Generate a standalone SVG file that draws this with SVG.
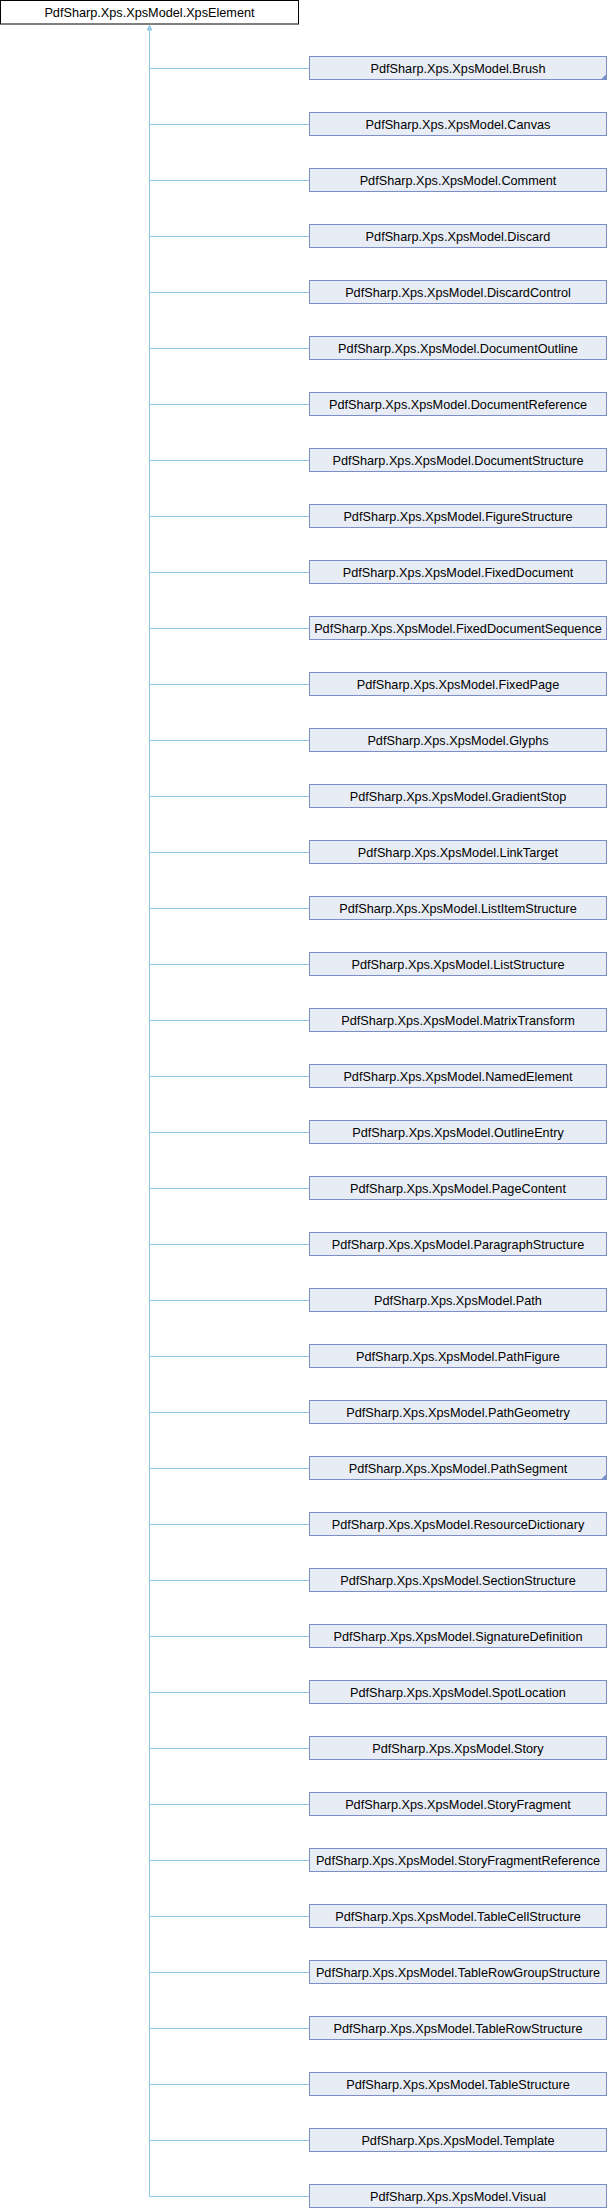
<svg xmlns="http://www.w3.org/2000/svg" width="608" height="2208" viewBox="0 0 608 2208">
<style>
.n rect{fill:#E8ECF5;stroke:#7B8FC6;stroke-width:1}
.r rect{fill:#FFFFFF;stroke:#000000;stroke-width:1}
text{font-family:"Liberation Sans",Arial,sans-serif;font-size:12.7px;fill:#000;text-anchor:middle}
.e{stroke:#8FC8E8;stroke-width:1;fill:none}
.c{fill:#7B8FC6}
</style>
<rect width="608" height="2208" fill="#fff"/>
<g id="connectors">
<path class="e" d="M149.5,30V2196.5"/>
<polygon points="149.5,24.5 146.5,30.5 152.5,30.5" fill="#8FC8E8"/>
<path class="e" d="M149.5,68.5H309M149.5,124.5H309M149.5,180.5H309M149.5,236.5H309M149.5,292.5H309M149.5,348.5H309M149.5,404.5H309M149.5,460.5H309M149.5,516.5H309M149.5,572.5H309M149.5,628.5H309M149.5,684.5H309M149.5,740.5H309M149.5,796.5H309M149.5,852.5H309M149.5,908.5H309M149.5,964.5H309M149.5,1020.5H309M149.5,1076.5H309M149.5,1132.5H309M149.5,1188.5H309M149.5,1244.5H309M149.5,1300.5H309M149.5,1356.5H309M149.5,1412.5H309M149.5,1468.5H309M149.5,1524.5H309M149.5,1580.5H309M149.5,1636.5H309M149.5,1692.5H309M149.5,1748.5H309M149.5,1804.5H309M149.5,1860.5H309M149.5,1916.5H309M149.5,1972.5H309M149.5,2028.5H309M149.5,2084.5H309M149.5,2140.5H309M149.5,2196.5H309"/>
</g>
<g id="XpsElement" class="r"><rect x="0.5" y="0.5" width="298" height="23.5"/><text x="149.5" y="17">PdfSharp.Xps.XpsModel.XpsElement</text></g>
<g id="Brush" class="n"><rect x="309.5" y="56.5" width="297" height="23"/><polygon class="c" points="601,79.5 606.5,74 606.5,79.5"/><text x="458" y="72.5">PdfSharp.Xps.XpsModel.Brush</text></g>
<g id="Canvas" class="n"><rect x="309.5" y="112.5" width="297" height="23"/><text x="458" y="128.5">PdfSharp.Xps.XpsModel.Canvas</text></g>
<g id="Comment" class="n"><rect x="309.5" y="168.5" width="297" height="23"/><text x="458" y="184.5">PdfSharp.Xps.XpsModel.Comment</text></g>
<g id="Discard" class="n"><rect x="309.5" y="224.5" width="297" height="23"/><text x="458" y="240.5">PdfSharp.Xps.XpsModel.Discard</text></g>
<g id="DiscardControl" class="n"><rect x="309.5" y="280.5" width="297" height="23"/><text x="458" y="296.5">PdfSharp.Xps.XpsModel.DiscardControl</text></g>
<g id="DocumentOutline" class="n"><rect x="309.5" y="336.5" width="297" height="23"/><text x="458" y="352.5">PdfSharp.Xps.XpsModel.DocumentOutline</text></g>
<g id="DocumentReference" class="n"><rect x="309.5" y="392.5" width="297" height="23"/><text x="458" y="408.5">PdfSharp.Xps.XpsModel.DocumentReference</text></g>
<g id="DocumentStructure" class="n"><rect x="309.5" y="448.5" width="297" height="23"/><text x="458" y="464.5">PdfSharp.Xps.XpsModel.DocumentStructure</text></g>
<g id="FigureStructure" class="n"><rect x="309.5" y="504.5" width="297" height="23"/><text x="458" y="520.5">PdfSharp.Xps.XpsModel.FigureStructure</text></g>
<g id="FixedDocument" class="n"><rect x="309.5" y="560.5" width="297" height="23"/><text x="458" y="576.5">PdfSharp.Xps.XpsModel.FixedDocument</text></g>
<g id="FixedDocumentSequence" class="n"><rect x="309.5" y="616.5" width="297" height="23"/><text x="458" y="632.5">PdfSharp.Xps.XpsModel.FixedDocumentSequence</text></g>
<g id="FixedPage" class="n"><rect x="309.5" y="672.5" width="297" height="23"/><text x="458" y="688.5">PdfSharp.Xps.XpsModel.FixedPage</text></g>
<g id="Glyphs" class="n"><rect x="309.5" y="728.5" width="297" height="23"/><text x="458" y="744.5">PdfSharp.Xps.XpsModel.Glyphs</text></g>
<g id="GradientStop" class="n"><rect x="309.5" y="784.5" width="297" height="23"/><text x="458" y="800.5">PdfSharp.Xps.XpsModel.GradientStop</text></g>
<g id="LinkTarget" class="n"><rect x="309.5" y="840.5" width="297" height="23"/><text x="458" y="856.5">PdfSharp.Xps.XpsModel.LinkTarget</text></g>
<g id="ListItemStructure" class="n"><rect x="309.5" y="896.5" width="297" height="23"/><text x="458" y="912.5">PdfSharp.Xps.XpsModel.ListItemStructure</text></g>
<g id="ListStructure" class="n"><rect x="309.5" y="952.5" width="297" height="23"/><text x="458" y="968.5">PdfSharp.Xps.XpsModel.ListStructure</text></g>
<g id="MatrixTransform" class="n"><rect x="309.5" y="1008.5" width="297" height="23"/><text x="458" y="1024.5">PdfSharp.Xps.XpsModel.MatrixTransform</text></g>
<g id="NamedElement" class="n"><rect x="309.5" y="1064.5" width="297" height="23"/><text x="458" y="1080.5">PdfSharp.Xps.XpsModel.NamedElement</text></g>
<g id="OutlineEntry" class="n"><rect x="309.5" y="1120.5" width="297" height="23"/><text x="458" y="1136.5">PdfSharp.Xps.XpsModel.OutlineEntry</text></g>
<g id="PageContent" class="n"><rect x="309.5" y="1176.5" width="297" height="23"/><text x="458" y="1192.5">PdfSharp.Xps.XpsModel.PageContent</text></g>
<g id="ParagraphStructure" class="n"><rect x="309.5" y="1232.5" width="297" height="23"/><text x="458" y="1248.5">PdfSharp.Xps.XpsModel.ParagraphStructure</text></g>
<g id="Path" class="n"><rect x="309.5" y="1288.5" width="297" height="23"/><text x="458" y="1304.5">PdfSharp.Xps.XpsModel.Path</text></g>
<g id="PathFigure" class="n"><rect x="309.5" y="1344.5" width="297" height="23"/><text x="458" y="1360.5">PdfSharp.Xps.XpsModel.PathFigure</text></g>
<g id="PathGeometry" class="n"><rect x="309.5" y="1400.5" width="297" height="23"/><text x="458" y="1416.5">PdfSharp.Xps.XpsModel.PathGeometry</text></g>
<g id="PathSegment" class="n"><rect x="309.5" y="1456.5" width="297" height="23"/><polygon class="c" points="601,1479.5 606.5,1474 606.5,1479.5"/><text x="458" y="1472.5">PdfSharp.Xps.XpsModel.PathSegment</text></g>
<g id="ResourceDictionary" class="n"><rect x="309.5" y="1512.5" width="297" height="23"/><text x="458" y="1528.5">PdfSharp.Xps.XpsModel.ResourceDictionary</text></g>
<g id="SectionStructure" class="n"><rect x="309.5" y="1568.5" width="297" height="23"/><text x="458" y="1584.5">PdfSharp.Xps.XpsModel.SectionStructure</text></g>
<g id="SignatureDefinition" class="n"><rect x="309.5" y="1624.5" width="297" height="23"/><text x="458" y="1640.5">PdfSharp.Xps.XpsModel.SignatureDefinition</text></g>
<g id="SpotLocation" class="n"><rect x="309.5" y="1680.5" width="297" height="23"/><text x="458" y="1696.5">PdfSharp.Xps.XpsModel.SpotLocation</text></g>
<g id="Story" class="n"><rect x="309.5" y="1736.5" width="297" height="23"/><text x="458" y="1752.5">PdfSharp.Xps.XpsModel.Story</text></g>
<g id="StoryFragment" class="n"><rect x="309.5" y="1792.5" width="297" height="23"/><text x="458" y="1808.5">PdfSharp.Xps.XpsModel.StoryFragment</text></g>
<g id="StoryFragmentReference" class="n"><rect x="309.5" y="1848.5" width="297" height="23"/><text x="458" y="1864.5">PdfSharp.Xps.XpsModel.StoryFragmentReference</text></g>
<g id="TableCellStructure" class="n"><rect x="309.5" y="1904.5" width="297" height="23"/><text x="458" y="1920.5">PdfSharp.Xps.XpsModel.TableCellStructure</text></g>
<g id="TableRowGroupStructure" class="n"><rect x="309.5" y="1960.5" width="297" height="23"/><text x="458" y="1976.5">PdfSharp.Xps.XpsModel.TableRowGroupStructure</text></g>
<g id="TableRowStructure" class="n"><rect x="309.5" y="2016.5" width="297" height="23"/><text x="458" y="2032.5">PdfSharp.Xps.XpsModel.TableRowStructure</text></g>
<g id="TableStructure" class="n"><rect x="309.5" y="2072.5" width="297" height="23"/><text x="458" y="2088.5">PdfSharp.Xps.XpsModel.TableStructure</text></g>
<g id="Template" class="n"><rect x="309.5" y="2128.5" width="297" height="23"/><text x="458" y="2144.5">PdfSharp.Xps.XpsModel.Template</text></g>
<g id="Visual" class="n"><rect x="309.5" y="2184.5" width="297" height="23"/><text x="458" y="2200.5">PdfSharp.Xps.XpsModel.Visual</text></g>
</svg>
